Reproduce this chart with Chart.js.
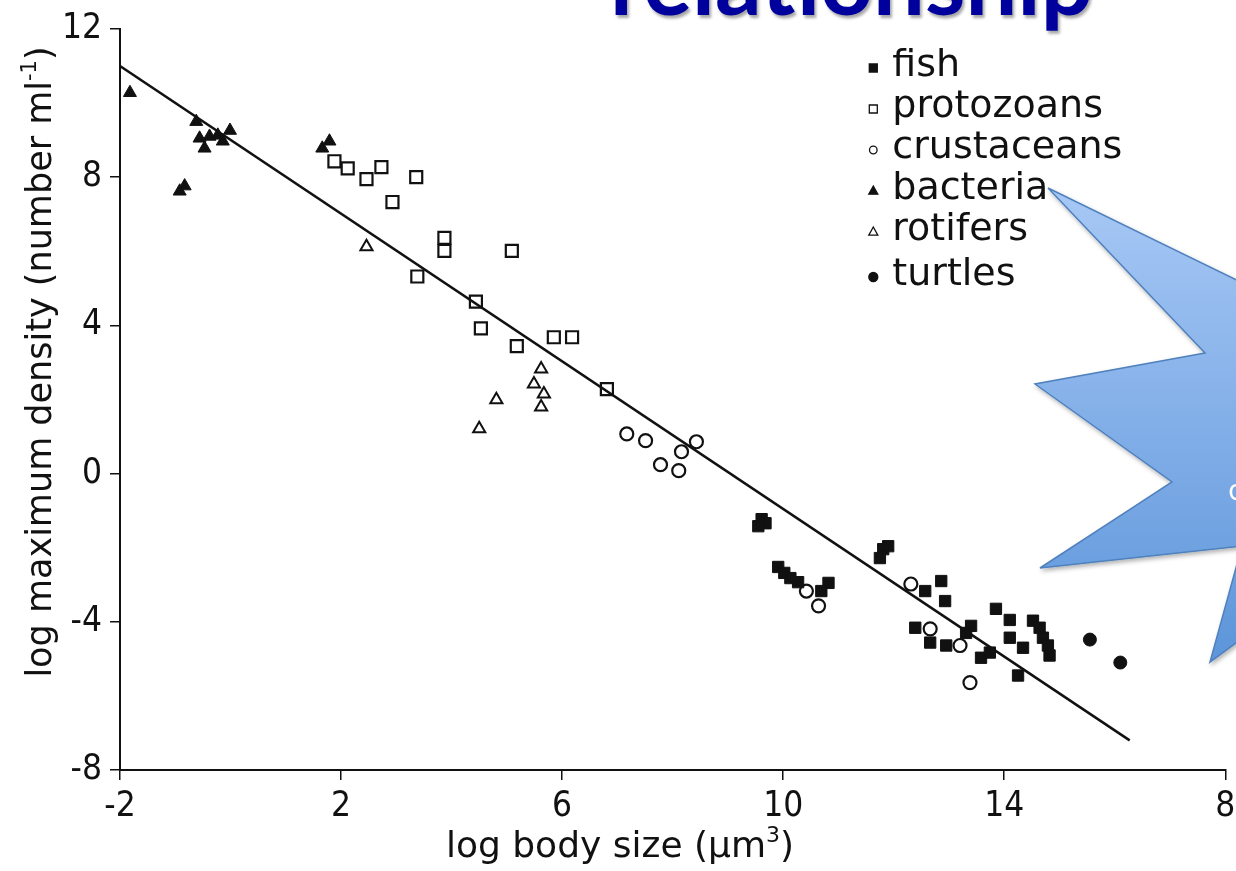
<!DOCTYPE html>
<html>
<head>
<meta charset="utf-8">
<title>log maximum density vs log body size</title>
<script src="https://cdn.jsdelivr.net/npm/chart.js@4.4.1/dist/chart.umd.min.js"></script>
<style>
  html, body { margin: 0; padding: 0; background: #fff; overflow: hidden; }
  #wrap { position: relative; width: 1236px; height: 871px; overflow: hidden; }
  #plot { position: absolute; left: 0; top: 0; }
  #heading {
    position: absolute; left: 610px; top: -66px;
    font: 700 92px Lato, "Open Sans", sans-serif; line-height: 1;
    color: #00009c; white-space: nowrap;
    text-shadow: 2px 3px 3px rgba(0, 0, 0, 0.35);
  }
  #burst { position: absolute; left: 0; top: 0; pointer-events: none; }
</style>
</head>
<body>
<div id="wrap">
  <canvas id="plot" width="1236" height="871"></canvas>
  <div id="heading">relationship</div>
  <svg id="burst" width="1236" height="871">
    <defs>
      <linearGradient id="fillGrad" x1="0" y1="0" x2="0" y2="1">
        <stop offset="0" stop-color="#a7c8f5"/>
        <stop offset="1" stop-color="#5d95da"/>
      </linearGradient>
      <filter id="shadow" x="-20%" y="-20%" width="140%" height="140%">
        <feDropShadow dx="1.5" dy="2.5" stdDeviation="2" flood-color="#000" flood-opacity="0.3"/>
      </filter>
    </defs>
    <polygon points="1048,188 1205,353 1035,384 1172,482 1040,568 1242,546 1210,662 1300,596 1300,311"
             fill="url(#fillGrad)" stroke="#4f81bd" stroke-width="1.5" filter="url(#shadow)"/>
    <text x="1228" y="500" fill="#fff" font-family="Open Sans" font-size="30">c</text>
  </svg>
</div>
<script>
// axis ticks
const xTicks = [-2, 2, 6, 10, 14, 18];
const xTickLabels = ['-2', '2', '6', '10', '14', '8'];
const yTicks = [-8, -4, 0, 4, 8, 12];

// series (log body size, log max density)
const fishX = [9.61, 9.68, 9.55, 9.91, 10.02, 10.13, 10.27, 10.82, 10.69, 11.81, 11.90, 11.75,
  12.57, 12.86, 12.93, 12.39, 12.66, 12.95, 13.40, 13.31, 13.58, 13.74, 13.85, 14.10,
  14.10, 14.34, 14.25, 14.52, 14.64, 14.70, 14.79, 14.82];
const fishY = [-1.23, -1.34, -1.42, -2.52, -2.68, -2.82, -2.93, -2.95, -3.17, -2.04, -1.96, -2.28,
  -3.17, -2.90, -3.44, -4.16, -4.56, -4.64, -4.11, -4.30, -4.97, -4.83, -3.65, -3.95,
  -4.43, -4.70, -5.45, -3.97, -4.16, -4.43, -4.64, -4.91];

const protozoaX = [1.88, 2.12, 2.46, 2.73, 3.36, 2.93, 3.87, 3.87, 3.38, 4.44, 5.09, 4.53, 5.18, 5.85, 6.18, 6.81];
const protozoaY = [8.43, 8.24, 7.95, 8.27, 8.00, 7.33, 6.36, 6.01, 5.32, 4.64, 6.01, 3.92, 3.44, 3.68, 3.68, 2.28];

const crustaceaX = [7.17, 7.51, 8.43, 8.16, 7.78, 8.11, 10.42, 10.64, 12.31, 12.66, 13.20, 13.38];
const crustaceaY = [1.07, 0.89, 0.86, 0.59, 0.24, 0.08, -3.17, -3.57, -2.98, -4.19, -4.64, -5.64];

const bacteriaX = [-1.82, -0.62, -0.56, -0.47, -0.38, -0.14, -0.01, -0.23, -0.83, -0.92, 1.79, 1.66];
const bacteriaY = [10.28, 9.50, 9.05, 8.78, 9.10, 8.97, 9.26, 9.13, 7.76, 7.62, 8.97, 8.78];

const rotiferX = [2.46, 5.62, 5.49, 5.67, 5.62, 4.81, 4.50];
const rotiferY = [6.12, 2.82, 2.42, 2.15, 1.80, 1.99, 1.21];

const turtleX = [15.55, 16.10];
const turtleY = [-4.48, -5.10];

// fitted line end points
const lineX = [-2, 16.27];
const lineY = [11.0, -7.2];

const tickFamily = '"Liberation Sans Narrow", "DejaVu Sans Condensed", sans-serif';
const textFont = '"DejaVu Sans", sans-serif';

function pts(xs, ys) {
  return xs.map((x, i) => ({ x: x, y: ys[i] }));
}

function drawMarker(ctx, ds, x, y, r) {
  ctx.save();
  ctx.beginPath();
  if (ds.pointStyle === 'rect') {
    ctx.rect(x - r, y - r, 2 * r, 2 * r);
  } else if (ds.pointStyle === 'triangle') {
    ctx.moveTo(x, y - r * 1.1);
    ctx.lineTo(x + r, y + r * 0.7);
    ctx.lineTo(x - r, y + r * 0.7);
    ctx.closePath();
  } else {
    ctx.arc(x, y, r, 0, Math.PI * 2);
  }
  if (ds.backgroundColor !== 'rgba(0,0,0,0)') {
    ctx.fillStyle = '#111';
    ctx.fill();
  }
  ctx.lineWidth = 1.3;
  ctx.strokeStyle = '#111';
  ctx.stroke();
  ctx.restore();
}

// draws a label made of normal and raised parts, centred on x
function drawParts(ctx, parts, cx, baseY, size) {
  const big = size + 'px ' + textFont;
  const small = Math.round(size * 0.6) + 'px ' + textFont;
  let total = 0;
  parts.forEach(p => {
    ctx.font = p[1] ? small : big;
    total += ctx.measureText(p[0]).width;
  });
  let x = cx - total / 2;
  parts.forEach(p => {
    ctx.font = p[1] ? small : big;
    ctx.fillText(p[0], x, p[1] ? baseY - size * 0.42 : baseY);
    x += ctx.measureText(p[0]).width;
  });
}

const paperPlugin = {
  id: 'paper',
  afterDraw(chart) {
    const ctx = chart.ctx;
    const area = chart.chartArea;
    ctx.save();
    ctx.fillStyle = '#111';
    ctx.textAlign = 'left';
    ctx.textBaseline = 'alphabetic';

    // legend in the upper right corner
    const legLeft = area.right - 352;
    chart.data.datasets.forEach(ds => {
      if (ds.legendRow === undefined) return;
      const base = 76 + ds.legendRow * 41 + (ds.legendRow === 5 ? 4 : 0);
      drawMarker(ctx, ds, legLeft, base - 8, ds.legendRadius);
      ctx.font = '38px ' + textFont;
      ctx.fillStyle = '#111';
      ctx.fillText(ds.label, legLeft + 19, base);
    });

    // x axis title
    drawParts(ctx, [['log body size (\u00b5m', false], ['3', true], [')', false]], 620, 857, 36);

    // y axis title
    ctx.translate(51, 362);
    ctx.rotate(-Math.PI / 2);
    drawParts(ctx, [['log maximum density (number ml', false], ['-1', true], [')', false]], 0, 0, 35);
    ctx.restore();
  }
};

const openFill = 'rgba(0,0,0,0)';

new Chart(document.getElementById('plot'), {
  type: 'scatter',
  data: {
    datasets: [
      { label: 'fitted line', data: pts(lineX, lineY), showLine: true, borderColor: '#111',
        borderWidth: 2.5, pointRadius: 0, order: 0 },
      { label: 'fish', data: pts(fishX, fishY), pointStyle: 'rect', pointRadius: 8,
        backgroundColor: '#111', borderColor: '#111', borderWidth: 1, order: 1,
        legendRow: 0, legendRadius: 4 },
      { label: 'protozoans', data: pts(protozoaX, protozoaY), pointStyle: 'rect', pointRadius: 8.5,
        backgroundColor: openFill, borderColor: '#111', borderWidth: 2.2, order: 1,
        legendRow: 1, legendRadius: 4 },
      { label: 'crustaceans', data: pts(crustaceaX, crustaceaY), pointStyle: 'circle', pointRadius: 6.5,
        backgroundColor: openFill, borderColor: '#111', borderWidth: 2.2, order: 1,
        legendRow: 2, legendRadius: 3.8 },
      { label: 'bacteria', data: pts(bacteriaX, bacteriaY), pointStyle: 'triangle', pointRadius: 7.5,
        backgroundColor: '#111', borderColor: '#111', borderWidth: 1, order: 1,
        legendRow: 3, legendRadius: 4.5 },
      { label: 'rotifers', data: pts(rotiferX, rotiferY), pointStyle: 'triangle', pointRadius: 7,
        backgroundColor: openFill, borderColor: '#111', borderWidth: 2, order: 1,
        legendRow: 4, legendRadius: 4.5 },
      { label: 'turtles', data: pts(turtleX, turtleY), pointStyle: 'circle', pointRadius: 6.5,
        backgroundColor: '#111', borderColor: '#111', borderWidth: 1, order: 1,
        legendRow: 5, legendRadius: 4.5 }
    ]
  },
  options: {
    responsive: false,
    animation: false,
    devicePixelRatio: 1,
    layout: { padding: { top: 25, right: 0, left: 0, bottom: 0 } },
    plugins: { legend: { display: false }, tooltip: { enabled: false } },
    scales: {
      x: {
        type: 'linear', min: -2, max: 18,
        afterBuildTicks: s => { s.ticks = xTicks.map(v => ({ value: v })); },
        afterFit: s => { s.height = 101; s.paddingRight = 8; s.paddingLeft = 0; },
        ticks: {
          font: { family: tickFamily, size: 35 },
          color: '#111', padding: 6, maxRotation: 0,
          callback: (v) => xTickLabels[xTicks.indexOf(v)]
        },
        grid: { drawOnChartArea: false, drawTicks: true, tickLength: 10, color: '#111', lineWidth: 1.5 },
        border: { color: '#111', width: 2 }
      },
      y: {
        type: 'linear', min: -8, max: 12,
        afterBuildTicks: s => { s.ticks = yTicks.map(v => ({ value: v })); },
        afterFit: s => { s.width = 120; },
        ticks: {
          font: { family: tickFamily, size: 35 },
          color: '#111', padding: 8
        },
        grid: { drawOnChartArea: false, drawTicks: true, tickLength: 10, color: '#111', lineWidth: 1.5 },
        border: { color: '#111', width: 2 }
      }
    }
  },
  plugins: [paperPlugin]
});
</script>
</body>
</html>
